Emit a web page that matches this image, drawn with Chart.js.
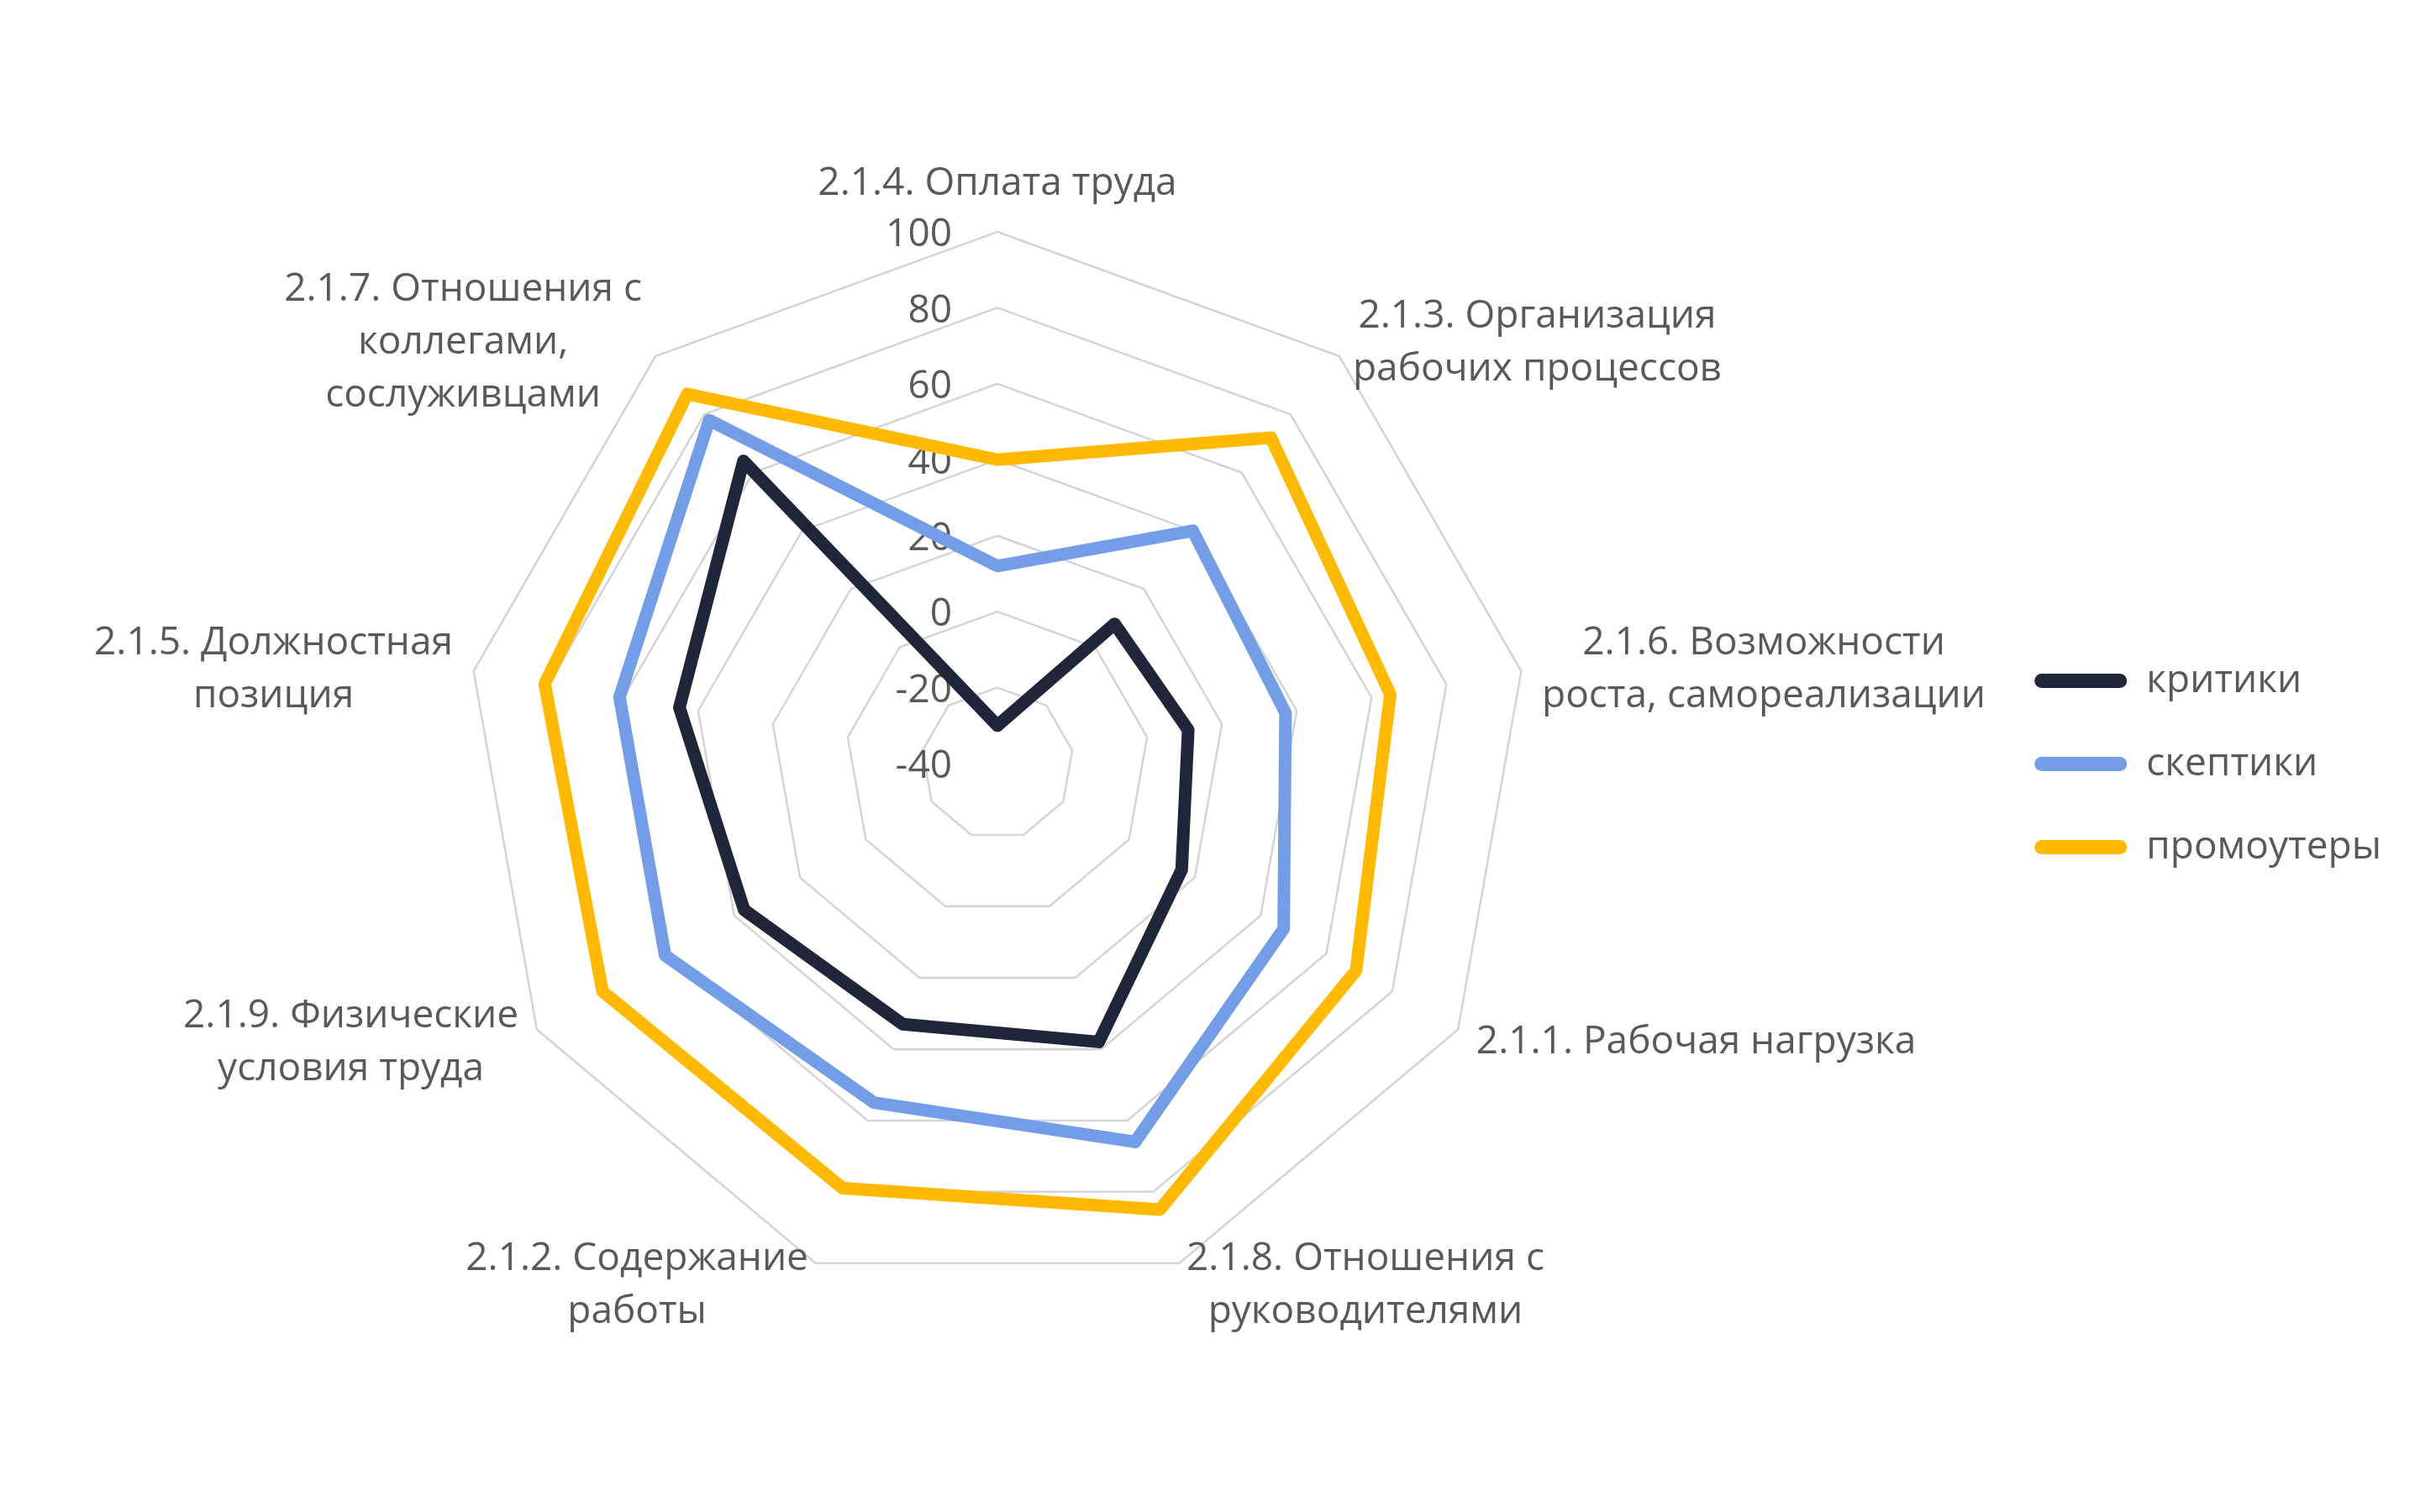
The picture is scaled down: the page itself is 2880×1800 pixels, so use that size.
<!DOCTYPE html>
<html>
<head>
<meta charset="utf-8">
<script src="https://cdn.jsdelivr.net/npm/chart.js"></script>
<style>
  body { margin: 0; background: #ffffff; }
  #wrap { width: 2880px; height: 1800px; }
</style>
</head>
<body>
<div id="wrap"><canvas id="myChart" width="2880" height="1800"></canvas></div>
<script>
// categories, clockwise from the top
const categories = [
  ['2.1.4. Оплата труда'],
  ['2.1.3. Организация', 'рабочих процессов'],
  ['2.1.6. Возможности', 'роста, самореализации'],
  ['2.1.1. Рабочая нагрузка'],
  ['2.1.8. Отношения с', 'руководителями'],
  ['2.1.2. Содержание', 'работы'],
  ['2.1.9. Физические', 'условия труда'],
  ['2.1.5. Должностная', 'позиция'],
  ['2.1.7. Отношения с', 'коллегами,', 'сослуживцами']
];
const seriesNames = ['критики', 'скептики', 'промоутеры'];
const critics    = [-30, 8, 11, 16, 38, 33, 37, 45, 64];
const sceptics   = [12, 40, 37, 47, 66, 55, 61, 61, 78];
const promoters  = [40, 72, 65, 69, 85, 79, 80, 81, 87];
const tickValues = [-40, -20, 0, 20, 40, 60, 80, 100];

const colors = ['#20263a', '#739de6', '#ffb900'];
const textColor = '#595959';
const fontFamily = '"Open Sans", "Noto Sans", sans-serif';
const fontSize = 46;

// tick labels sit left of the vertical axis, under the lines
const tickLabelPlugin = {
  id: 'tickLabels',
  beforeDatasetsDraw(chart) {
    const r = chart.scales.r;
    const ctx = chart.ctx;
    ctx.save();
    ctx.font = fontSize + 'px ' + fontFamily;
    ctx.fillStyle = textColor;
    ctx.textAlign = 'right';
    ctx.textBaseline = 'middle';
    tickValues.forEach(v => {
      const y = r.yCenter - r.getDistanceFromCenterForValue(v) + 4;
      ctx.fillText(String(v), r.xCenter - 54, y);
    });
    ctx.restore();
  }
};

// category labels placed around the polygon, lines centred inside the block
const pointLabelPlugin = {
  id: 'pointLabelsExcel',
  afterDatasetsDraw(chart) {
    const r = chart.scales.r;
    const ctx = chart.ctx;
    const lh = 63;
    ctx.save();
    ctx.font = fontSize + 'px ' + fontFamily;
    ctx.fillStyle = textColor;
    ctx.textAlign = 'center';
    ctx.textBaseline = 'middle';
    chart.data.labels.forEach((lines, i) => {
      const p = r.getPointPosition(i, r.drawingArea + 25);
      const s = Math.cos(p.angle);   // horizontal direction
      const c = -Math.sin(p.angle);  // upward direction
      const w = Math.max(...lines.map(t => ctx.measureText(t).width));
      const h = lines.length * lh;
      let cx = p.x;
      if (s > 0.05) cx = p.x + w / 2;
      else if (s < -0.05) cx = p.x - w / 2;
      let cy = p.y + 3;
      if (Math.abs(s) <= 0.05) cy = c > 0 ? p.y - h / 2 - 1 : p.y + h / 2;
      lines.forEach((t, k) => {
        ctx.fillText(t, cx, cy - h / 2 + lh * (k + 0.5));
      });
    });
    ctx.restore();
  }
};

const baseLabels = Chart.defaults.plugins.legend.labels.generateLabels;

new Chart(document.getElementById('myChart'), {
  type: 'radar',
  data: {
    labels: categories,
    datasets: [
      { label: seriesNames[0], data: critics,   borderColor: colors[0], backgroundColor: colors[0] },
      { label: seriesNames[1], data: sceptics,  borderColor: colors[1], backgroundColor: colors[1] },
      { label: seriesNames[2], data: promoters, borderColor: colors[2], backgroundColor: colors[2] }
    ]
  },
  options: {
    responsive: false,
    animation: false,
    devicePixelRatio: 1,
    layout: { padding: { left: 6, right: 36, top: 276, bottom: 257 } },
    elements: {
      line: { borderWidth: 15, fill: false, tension: 0, borderJoinStyle: 'round', borderCapStyle: 'round' },
      point: { radius: 0, hoverRadius: 0 }
    },
    scales: {
      r: {
        min: -40,
        max: 100,
        ticks: { stepSize: 20, display: false },
        grid: { circular: false, color: '#d4d4d4', lineWidth: 2.5 },
        angleLines: { display: false },
        pointLabels: { display: false }
      }
    },
    plugins: {
      tooltip: { enabled: false },
      legend: {
        position: 'right',
        align: 'center',
        labels: {
          font: { size: fontSize, family: fontFamily },
          color: textColor,
          boxWidth: 110,
          boxHeight: 17,
          padding: 53,
          useBorderRadius: true,
          borderRadius: 8.5,
          generateLabels(chart) {
            return baseLabels(chart).map(item => {
              item.fillStyle = item.strokeStyle;
              item.lineWidth = 0;
              return item;
            });
          }
        }
      }
    }
  },
  plugins: [tickLabelPlugin, pointLabelPlugin]
});
</script>
</body>
</html>
